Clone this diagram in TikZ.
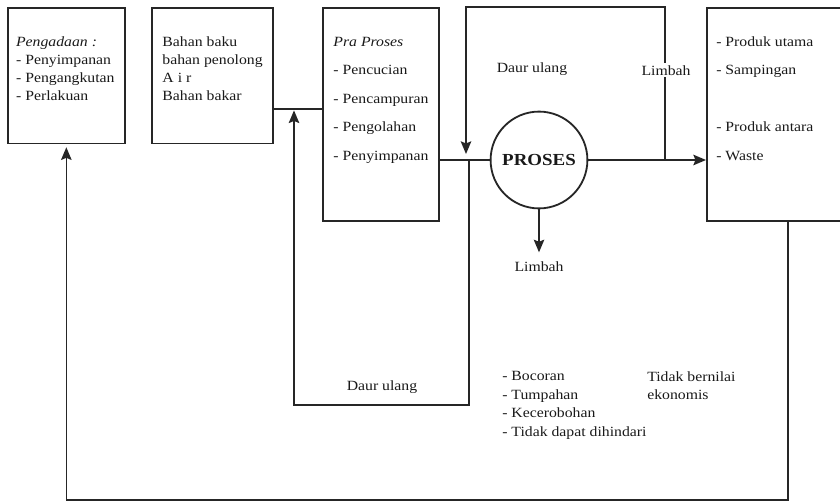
\documentclass[tikz,border=0pt]{standalone}
\usepackage{fontspec}
\setmainfont[FakeStretch=1.12]{Liberation Serif}
\usetikzlibrary{arrows.meta,positioning}

\begin{document}
\begin{tikzpicture}[
	x=0.025cm,y=-0.025cm,
	kotak/.style={draw=black!85,line width=1.3pt,rectangle,anchor=north west,inner sep=0pt},
	isi/.style={font=\fontsize{10}{12.8}\selectfont,align=left,inner sep=0pt,anchor=north west,text=black!90},
	isilebar/.style={isi,font=\fontsize{10}{20.3}\selectfont},
	ket/.style={font=\fontsize{10}{12}\selectfont,inner sep=1.5pt,anchor=base,text=black!90},
	garis/.style={line width=1.1pt,draw=black!85},
	panah/.style={garis,-{Stealth[length=9pt,width=7.5pt,inset=1.5pt]}}
	]
	
	\path[use as bounding box] (0,0) rectangle (840,500);
	\clip (0,0) rectangle (840,500);
	
	% Kotak utama
	\node[kotak,minimum width=2.92cm,minimum height=3.39cm] (pengadaan) at (7,7) {};
	\node[kotak,minimum width=3.03cm,minimum height=3.39cm] (bahan) at (151,7) {};
	\node[kotak,minimum width=2.9cm,minimum height=5.32cm] (praproses) at (322,7) {};
	\node[kotak,minimum width=4.05cm,minimum height=5.32cm] (produk) at (706,7) {};
	
	% Proses
	\node[draw=black!85,line width=1.3pt,circle,minimum size=2.42cm,inner sep=0pt,
		font=\fontsize{12}{14}\selectfont\bfseries,text=black!90] (proses) at (539,160) {PROSES};
	
	% Isi kotak
	\node[isi,below right=0.74cm and 0.22cm of pengadaan.north west] (tpengadaan)
		{\textit{Pengadaan :}\\- Penyimpanan\\- Pengangkutan\\- Perlakuan};
	\node[isi,below right=0.74cm and 0.28cm of bahan.north west] (tbahan)
		{Bahan baku\\bahan penolong\\A i r\\Bahan bakar};
	\node[isilebar,below right=0.74cm and 0.28cm of praproses.north west] (tpra)
		{\textit{Pra Proses}\\- Pencucian\\- Pencampuran\\- Pengolahan\\- Penyimpanan};
	\node[isilebar,below right=0.73cm and 0.25cm of produk.north west] (tproduk)
		{- Produk utama\\- Sampingan\\[20.3pt]- Produk antara\\- Waste};
	
	% Titik bantu
	\coordinate (masuk) at (294,109);
	\coordinate (pisah) at (469,160);
	\coordinate (balik) at (466,154);
	\coordinate (buang) at (665,160);
	
	% Aliran utama
	\draw[garis] (bahan.east |- masuk) -- (praproses.west |- masuk);
	\draw[garis] (praproses.east |- proses) -- (proses.west);
	\draw[panah] (proses.east) -- (produk.west |- proses);
	
	% Daur ulang
	\draw[panah,shorten >=1pt] (pisah) -- ++(0,245) -| (masuk);
	\draw[panah] (buang) -- ++(0,-153) -| (balik);
	\draw[panah,shorten >=2pt] (produk.south) -- ++(0,278.5) -| (pengadaan.south);
	
	% Keterangan
	\node[ket] (daur1) at (532,72.5) {Daur ulang};
	\node[ket,fill=white] (limbah1) at (666,75) {Limbah};
	\node[ket] (limbah2) at (539,271.5) {Limbah};
	\node[ket] (daur2) at (382,390) {Daur ulang};
	\draw[panah,shorten >=5pt] (proses.south) -- (limbah2.north);
	
	\node[isi,font=\fontsize{10}{13.3}\selectfont] (sebab) at (502,371)
		{- Bocoran\\- Tumpahan\\- Kecerobohan\\- Tidak dapat dihindari};
	\node[isi,font=\fontsize{10}{13.3}\selectfont] (nilai) at (647,371)
		{Tidak bernilai\\ekonomis};
	
\end{tikzpicture}
\end{document}
